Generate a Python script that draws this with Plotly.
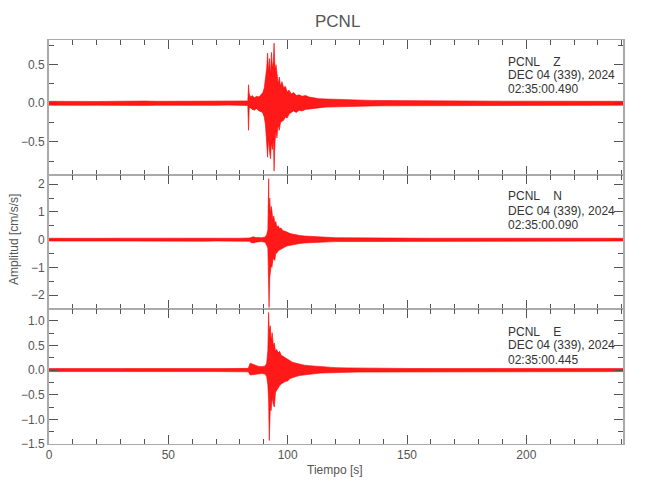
import plotly.graph_objects as go

# ---------------- data (envelopes) ----------------
z_t = [
    0, 5, 10, 15, 20, 25, 30, 35, 40, 45,
    50, 55, 60, 65, 70, 75, 80, 83.3, 83.6, 83.9,
    84.5, 85.2, 86, 87, 88, 89, 89.6, 90.2, 90.7, 91.2,
    91.6, 92.0, 92.4, 92.8, 93.2, 93.6, 94.0, 94.3, 94.7, 95.1,
    95.5, 96.0, 96.5, 97.0, 97.6, 98.3, 99.0, 99.8, 100.6, 101.5,
    102.5, 103.6, 104.8, 106, 107.5, 109, 111, 113, 116, 120,
    125, 130, 135, 140, 150, 160, 170, 180, 190, 200,
    210, 220, 230, 240.5]
z_up = [
    0.025, 0.022, 0.027, 0.024, 0.023, 0.026, 0.024, 0.028, 0.029, 0.025,
    0.026, 0.028, 0.025, 0.027, 0.026, 0.025, 0.027, 0.03, 0.24, 0.12,
    0.08, 0.10, 0.07, 0.09, 0.08, 0.12, 0.14, 0.20, 0.32, 0.45,
    0.65, 0.40, 0.58, 0.35, 0.66, 0.45, 0.55, 0.78, 0.42, 0.50,
    0.40, 0.25, 0.34, 0.22, 0.28, 0.20, 0.22, 0.15, 0.17, 0.12,
    0.14, 0.10, 0.11, 0.09, 0.10, 0.08, 0.07, 0.06, 0.055, 0.05,
    0.045, 0.04, 0.037, 0.035, 0.032, 0.03, 0.029, 0.028, 0.027, 0.027,
    0.026, 0.025, 0.025, 0.025]
z_lo = [
    -0.025, -0.026, -0.024, -0.027, -0.025, -0.023, -0.026, -0.025, -0.028, -0.026,
    -0.025, -0.027, -0.026, -0.025, -0.027, -0.024, -0.026, -0.03, -0.35, -0.06,
    -0.06, -0.08, -0.09, -0.07, -0.10, -0.11, -0.13, -0.18, -0.28, -0.50,
    -0.70, -0.45, -0.62, -0.72, -0.50, -0.60, -0.45, -0.88, -0.50, -0.35,
    -0.45, -0.28, -0.35, -0.25, -0.24, -0.22, -0.18, -0.19, -0.14, -0.12,
    -0.10, -0.12, -0.09, -0.10, -0.08, -0.08, -0.07, -0.06, -0.05, -0.045,
    -0.04, -0.037, -0.035, -0.033, -0.031, -0.029, -0.028, -0.027, -0.026, -0.026,
    -0.025, -0.025, -0.025, -0.025]

n_t = [
    0, 5, 10, 15, 20, 25, 30, 35, 40, 45,
    50, 55, 60, 65, 70, 75, 80, 84, 84.8, 85.6,
    86.5, 87.5, 89, 90.5, 91.2, 91.7, 92.05, 92.2, 92.5, 92.8,
    93.1, 93.4, 93.8, 94.2, 94.6, 95.0, 95.5, 96.0, 96.6, 97.2,
    98.0, 99.0, 100, 101, 102, 103.5, 105, 107, 109, 111,
    114, 117, 120, 125, 130, 140, 150, 160, 170, 180,
    190, 200, 210, 220, 230, 240.5]
n_up = [
    0.05, 0.045, 0.05, 0.055, 0.05, 0.048, 0.052, 0.05, 0.05, 0.055,
    0.05, 0.052, 0.05, 0.048, 0.05, 0.052, 0.05, 0.06, 0.09, 0.10,
    0.08, 0.07, 0.07, 0.09, 0.18, 0.35, 2.20, 1.00, 1.50, 0.90,
    1.20, 1.05, 0.70, 0.85, 0.60, 0.65, 0.45, 0.50, 0.40, 0.42,
    0.32, 0.30, 0.25, 0.22, 0.20, 0.17, 0.15, 0.13, 0.12, 0.10,
    0.09, 0.08, 0.07, 0.065, 0.06, 0.055, 0.052, 0.05, 0.05, 0.052,
    0.05, 0.05, 0.048, 0.05, 0.05, 0.05]
n_lo = [
    -0.05, -0.052, -0.048, -0.05, -0.055, -0.05, -0.05, -0.052, -0.048, -0.05,
    -0.052, -0.05, -0.05, -0.055, -0.05, -0.048, -0.05, -0.06, -0.11, -0.12,
    -0.09, -0.08, -0.07, -0.09, -0.20, -0.30, -1.20, -2.45, -1.37, -1.10,
    -0.90, -1.00, -0.75, -0.65, -0.75, -0.50, -0.48, -0.40, -0.38, -0.35,
    -0.30, -0.26, -0.22, -0.20, -0.18, -0.16, -0.14, -0.12, -0.11, -0.09,
    -0.085, -0.08, -0.07, -0.065, -0.06, -0.055, -0.052, -0.05, -0.05, -0.05,
    -0.05, -0.048, -0.05, -0.05, -0.05, -0.05]

e_t = [
    0, 5, 10, 15, 20, 25, 30, 35, 40, 45,
    50, 55, 60, 65, 70, 75, 80, 83.5, 84.3, 85.2,
    86.2, 87.5, 89, 90.5, 91.2, 91.7, 92.0, 92.3, 92.7, 93.1,
    93.5, 94.0, 94.4, 94.9, 95.4, 96.0, 96.6, 97.3, 98.0, 99.0,
    100, 101, 102, 103.5, 105, 107, 109, 111, 114, 117,
    120, 125, 130, 140, 150, 160, 170, 180, 190, 200,
    210, 220, 230, 240.5]
e_up = [
    0.03, 0.028, 0.031, 0.03, 0.029, 0.032, 0.03, 0.031, 0.029, 0.03,
    0.032, 0.03, 0.031, 0.029, 0.03, 0.031, 0.03, 0.035, 0.14, 0.12,
    0.11, 0.08, 0.07, 0.08, 0.14, 0.40, 1.17, 0.80, 0.90, 0.60,
    0.76, 0.50, 0.55, 0.38, 0.42, 0.35, 0.38, 0.30, 0.28, 0.25,
    0.22, 0.18, 0.16, 0.14, 0.12, 0.10, 0.09, 0.08, 0.065, 0.055,
    0.05, 0.045, 0.04, 0.036, 0.033, 0.031, 0.03, 0.031, 0.03, 0.029,
    0.03, 0.031, 0.03, 0.03]
e_lo = [
    -0.03, -0.031, -0.029, -0.03, -0.032, -0.03, -0.029, -0.031, -0.03, -0.032,
    -0.03, -0.029, -0.031, -0.03, -0.03, -0.029, -0.031, -0.035, -0.10, -0.09,
    -0.09, -0.08, -0.07, -0.08, -0.13, -0.30, -0.60, -1.43, -0.80, -0.82,
    -0.55, -0.70, -0.75, -0.45, -0.40, -0.37, -0.32, -0.28, -0.26, -0.23,
    -0.22, -0.17, -0.15, -0.13, -0.11, -0.10, -0.085, -0.075, -0.06, -0.055,
    -0.05, -0.045, -0.04, -0.036, -0.033, -0.031, -0.03, -0.029, -0.03, -0.031,
    -0.03, -0.029, -0.03, -0.03]

station = "PCNL"
components = ["Z", "N", "E"]
date_label = "DEC 04 (339), 2024"
start_times = ["02:35:00.490", "02:35:00.090", "02:35:00.445"]
y_ranges = [[-0.93, 0.82], [-2.5, 2.33], [-1.5, 1.24]]
y_dticks = [0.5, 1, 0.5]
y_minor = [0.25, 0.5, 0.25]
y_formats = [".1f", "d", ".1f"]
x_range = [0, 240.5]

for a, b, c in [(z_t, z_up, z_lo), (n_t, n_up, n_lo), (e_t, e_up, e_lo)]:
    assert len(a) == len(b) == len(c)

# ---------------- figure ----------------
FONT = "Liberation Sans, Arial, sans-serif"
AX = "#aaaaaa"
TK = "#555555"

W, H = 650, 500
L, R, T, B = 49, 27, 40, 56
PH = H - T - B
PW = W - L - R
bounds = [40, 175, 309, 444]


def py(ypix):
    return (H - B - ypix) / PH


def px(xpix):
    return (xpix - L) / PW


fig = go.Figure()
traces = [(z_t, z_up, z_lo), (n_t, n_up, n_lo), (e_t, e_up, e_lo)]
for i, (t, up, lo) in enumerate(traces):
    k = "" if i == 0 else str(i + 1)
    fig.add_trace(go.Scatter(
        x=list(t) + list(t)[::-1],
        y=list(up) + list(lo)[::-1],
        fill="toself", fillcolor="rgba(255,0,0,0.9)",
        line=dict(color="#ff0000", width=0.6),
        mode="lines", hoverinfo="skip",
        xaxis="x" + k, yaxis="y" + k,
    ))

layout = dict(
    width=W, height=H, margin=dict(l=L, r=R, t=T, b=B),
    plot_bgcolor="white", paper_bgcolor="white", showlegend=False,
    font=dict(family=FONT, color=TK, size=12),
)
for i in range(3):
    k = "" if i == 0 else str(i + 1)
    dom = [py(bounds[i + 1]), py(bounds[i])]
    layout["xaxis" + k] = dict(
        domain=[0, 1], anchor="y" + k, range=x_range,
        matches=None if i == 0 else "x",
        showline=True, linecolor=AX, linewidth=1, mirror="allticks",
        ticks="inside", ticklen=9, tickcolor=TK, tickwidth=1,
        tick0=0, dtick=50, showgrid=False, zeroline=False,
        showticklabels=(i == 2),
        tickfont=dict(family=FONT, size=12, color=TK),
        minor=dict(dtick=10, tick0=0, ticks="inside", ticklen=5,
                   tickcolor=TK, showgrid=False),
    )
    layout["yaxis" + k] = dict(
        domain=dom, anchor="x" + k, range=y_ranges[i],
        showline=True, linecolor=AX, linewidth=2, mirror="allticks",
        ticks="inside", ticklen=9, tickcolor=TK, tickwidth=1,
        tick0=0, dtick=y_dticks[i], tickformat=y_formats[i],
        showgrid=False, zeroline=False,
        tickfont=dict(family=FONT, size=12, color=TK),
        minor=dict(dtick=y_minor[i], tick0=0, ticks="inside", ticklen=5,
                   tickcolor=TK, showgrid=False),
    )
fig.update_layout(**layout)

NB = "\u00a0"
ann = []
text_y = [(62, 75, 89), (196, 211, 225), (332, 345, 360)]
for i in range(3):
    lines = [station + NB * 4 + components[i], date_label, start_times[i]]
    for line, yp in zip(lines, text_y[i]):
        ann.append(dict(text=line, xref="paper", yref="paper",
                        x=px(506), y=py(yp), xanchor="left", yanchor="middle",
                        showarrow=False, font=dict(family=FONT, size=12, color="#333")))

ann.append(dict(text=station, xref="paper", yref="paper", x=px(337), y=py(22),
                xanchor="center", yanchor="middle", showarrow=False,
                font=dict(family=FONT, size=17, color=TK)))
ann.append(dict(text="Tiempo [s]", xref="paper", yref="paper", x=px(335), y=py(470),
                xanchor="center", yanchor="middle", showarrow=False,
                font=dict(family=FONT, size=12, color=TK)))
ann.append(dict(text="Amplitud [cm/s/s]", xref="paper", yref="paper", x=px(14), y=py(240),
                xanchor="center", yanchor="middle", textangle=-90, showarrow=False,
                font=dict(family=FONT, size=12, color=TK)))
fig.update_layout(annotations=ann)

fig.write_html("out.html", config={"displayModeBar": False},
               post_script="document.body.style.margin='0px';")
